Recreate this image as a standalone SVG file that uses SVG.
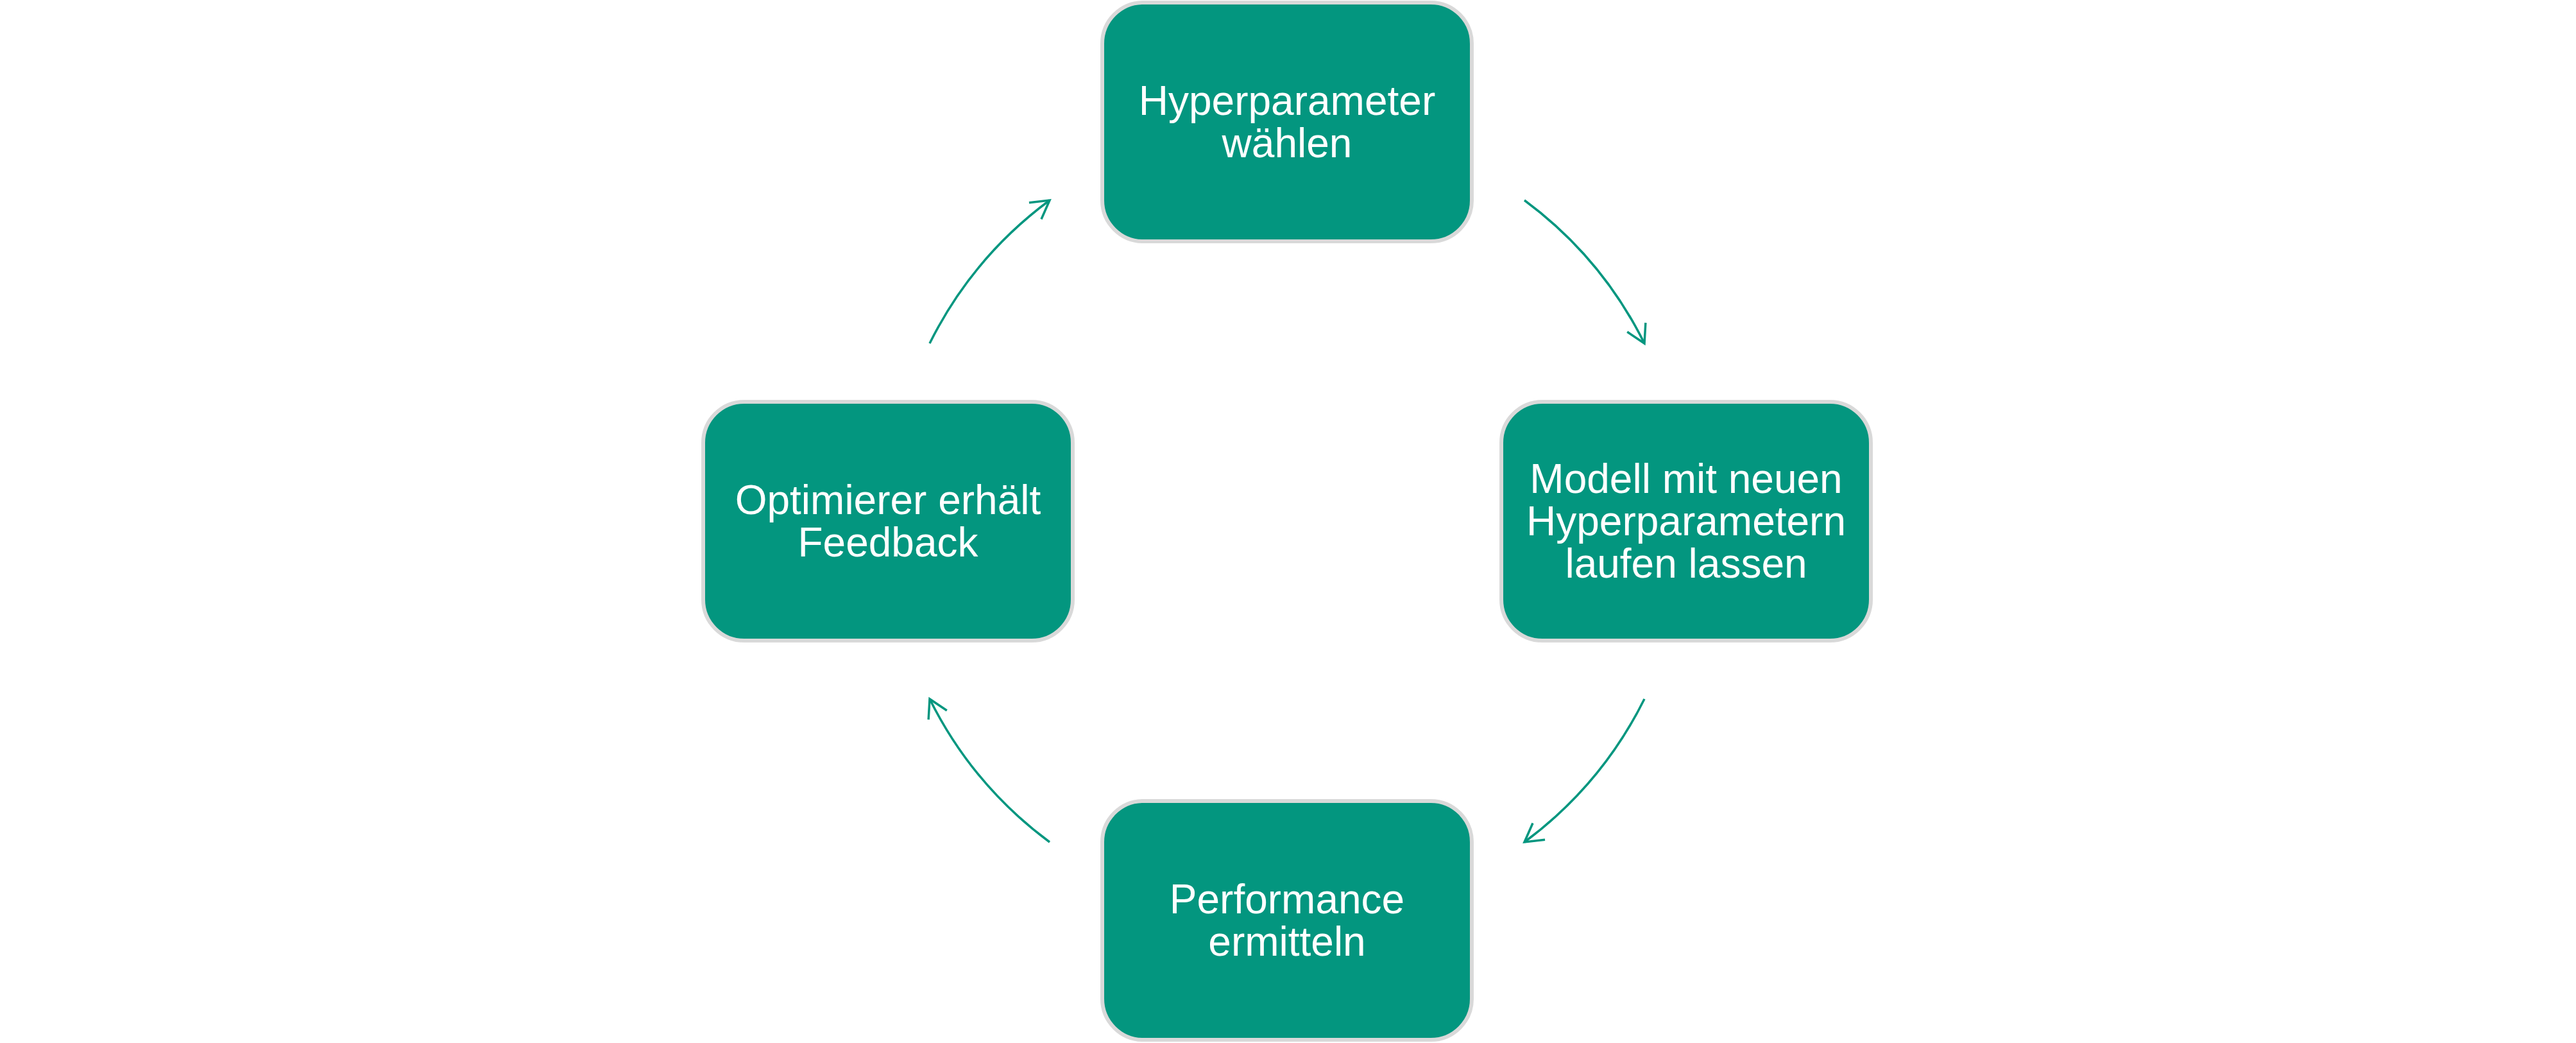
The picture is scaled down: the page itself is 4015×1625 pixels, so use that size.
<svg xmlns="http://www.w3.org/2000/svg" width="4015" height="1625" viewBox="0 0 4015 1625">
<style>
.box{fill:#03967f;stroke:#d9d9d9;stroke-width:6}
.lbl{fill:#ffffff;font-family:"Liberation Sans",Arial,sans-serif;font-size:64px;text-anchor:middle}
.conn{fill:none;stroke:#03967f;stroke-width:3.5}
</style>
<defs>
<marker id="arr" markerUnits="userSpaceOnUse" orient="auto" markerWidth="40" markerHeight="40" viewBox="-32 -20 36 40" refX="0" refY="0">
<path d="M -28 -16 L 0 0 L -28 16" fill="none" stroke="#03967f" stroke-width="3.5"/>
</marker>
</defs>
<rect width="4015" height="1625" fill="#ffffff"/>
<g id="connectors">
<path class="conn" d="M 2376 312 A 622 622 0 0 1 2563 535" marker-end="url(#arr)"/>
<path class="conn" d="M 2563 1089 A 622 622 0 0 1 2376 1312" marker-end="url(#arr)"/>
<path class="conn" d="M 1636 1312 A 622 622 0 0 1 1449 1089" marker-end="url(#arr)"/>
<path class="conn" d="M 1449 535 A 622 622 0 0 1 1636 312" marker-end="url(#arr)"/>
</g>
<g id="node-top">
<rect class="box" x="1718" y="4" width="576" height="372" rx="64"/>
<text class="lbl" x="2006" y="179">Hyperparameter</text>
<text class="lbl" x="2006" y="245">wählen</text>
</g>
<g id="node-right">
<rect class="box" x="2340" y="626" width="576" height="372" rx="64"/>
<text class="lbl" x="2628" y="768">Modell mit neuen</text>
<text class="lbl" x="2628" y="834">Hyperparametern</text>
<text class="lbl" x="2628" y="900">laufen lassen</text>
</g>
<g id="node-bottom">
<rect class="box" x="1718" y="1248" width="576" height="372" rx="64"/>
<text class="lbl" x="2006" y="1423">Performance</text>
<text class="lbl" x="2006" y="1489">ermitteln</text>
</g>
<g id="node-left">
<rect class="box" x="1096" y="626" width="576" height="372" rx="64"/>
<text class="lbl" x="1384" y="801">Optimierer erhält</text>
<text class="lbl" x="1384" y="867">Feedback</text>
</g>
</svg>
